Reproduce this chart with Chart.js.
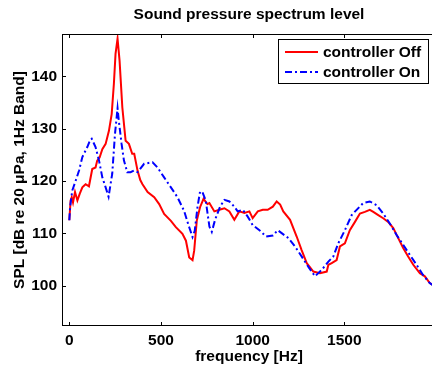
<!DOCTYPE html>
<html>
<head>
<meta charset="utf-8">
<script src="https://cdn.jsdelivr.net/npm/chart.js@4.4.0/dist/chart.umd.min.js"></script>
<style>
  html, body { margin: 0; padding: 0; background: #fff; overflow: hidden; }
  #wrap { width: 440px; height: 367px; }
</style>
</head>
<body>
<div id="wrap"><canvas id="splChart"></canvas></div>
<script>
// values
const offFreq = [0, 7, 13, 20, 31, 44, 57, 71, 80, 89, 107, 125, 143, 152, 165, 180, 198, 216, 231, 243, 252, 263, 274, 289, 307, 325, 343, 354, 372, 387, 399, 427, 463, 490, 517, 554, 581, 617, 636, 654, 672, 681, 695, 713, 732, 753, 764, 791, 818, 846, 873, 900, 927, 955, 982, 1000, 1028, 1055, 1082, 1110, 1131, 1150, 1167, 1204, 1240, 1267, 1295, 1331, 1367, 1404, 1413, 1431, 1458, 1476, 1503, 1530, 1558, 1585, 1612, 1639, 1658, 1685, 1712, 1739, 1767, 1794, 1821, 1848, 1876, 1912, 1939, 1966, 1990];
const offSpl = [112.5, 116.3, 116.9, 115.9, 117.9, 116.3, 117.6, 118.8, 119.1, 119.4, 119.0, 122.3, 122.6, 123.9, 124.5, 126.1, 127.1, 129.6, 132.8, 138.6, 144.3, 147.2, 143.0, 134.1, 127.7, 127.1, 125.2, 125.2, 122.0, 120.2, 119.4, 117.9, 116.9, 115.6, 113.7, 112.4, 111.2, 109.9, 108.6, 105.4, 104.9, 106.7, 112.4, 115.0, 116.6, 115.6, 115.8, 114.2, 114.5, 114.8, 114.2, 112.6, 114.2, 113.9, 114.2, 112.9, 114.2, 114.5, 114.5, 115.1, 116.1, 115.5, 114.2, 112.6, 109.4, 106.8, 104.3, 102.7, 102.4, 102.7, 104.0, 104.3, 104.9, 107.5, 108.1, 110.6, 112.2, 113.8, 114.1, 114.5, 114.1, 113.5, 112.9, 112.2, 111.0, 109.1, 107.2, 105.6, 104.0, 102.4, 101.8, 100.5, 100.0];

const onFreq = [0, 4, 16, 35, 53, 71, 98, 114, 122, 143, 162, 180, 198, 214, 234, 249, 263, 270, 285, 298, 316, 334, 352, 372, 408, 454, 481, 517, 554, 590, 626, 648, 672, 684, 699, 713, 726, 744, 764, 777, 795, 822, 846, 873, 900, 918, 946, 973, 1000, 1037, 1073, 1110, 1137, 1160, 1195, 1231, 1267, 1304, 1340, 1376, 1413, 1440, 1467, 1503, 1540, 1567, 1603, 1639, 1676, 1712, 1748, 1785, 1821, 1857, 1894, 1930, 1966, 1990];
const onSpl = [112.5, 115.0, 118.2, 120.1, 122.0, 124.6, 126.5, 127.9, 128.1, 126.5, 123.9, 120.7, 118.8, 117.0, 121.4, 129.0, 133.9, 131.5, 127.1, 123.9, 121.7, 121.7, 122.0, 121.7, 123.3, 123.6, 122.6, 120.7, 118.8, 116.9, 114.3, 111.8, 109.3, 110.5, 115.0, 118.0, 117.9, 116.3, 111.3, 110.3, 112.6, 115.1, 116.4, 116.1, 115.1, 114.2, 114.5, 113.2, 111.6, 110.6, 109.4, 109.6, 110.6, 110.0, 109.1, 107.5, 105.6, 103.6, 101.8, 103.0, 104.6, 105.6, 108.1, 110.6, 113.5, 114.5, 115.8, 116.1, 115.4, 113.8, 111.9, 109.7, 107.8, 105.9, 104.0, 102.0, 100.5, 99.9];

const seriesNames = ['controller Off', 'controller On'];
const xTicks = [0, 500, 1000, 1500];
const yTicks = [100, 110, 120, 130, 140];
const chartTitle = 'Sound pressure spectrum level';

const FONT = '"Liberation Sans", Arial, Helvetica, sans-serif';
const FS = 15.5;

function toPoints(xs, ys) {
    return xs.map((x, i) => ({ x: x, y: ys[i] }));
}

// MATLAB style box, inward ticks, title and legend
const matlabFrame = {
    id: 'matlabFrame',
    afterDraw(chart) {
        const { ctx, chartArea: a, scales: { x, y } } = chart;
        ctx.save();
        ctx.strokeStyle = '#000';
        ctx.lineWidth = 1;
        ctx.setLineDash([]);
        ctx.strokeRect(a.left + 0.5, a.top + 0.5, a.right - a.left - 1, a.bottom - a.top - 1);

        ctx.beginPath();
        xTicks.forEach(v => {
            const px = Math.round(x.getPixelForValue(v)) + 0.5;
            ctx.moveTo(px, a.bottom); ctx.lineTo(px, a.bottom - 4);
            ctx.moveTo(px, a.top); ctx.lineTo(px, a.top + 4);
        });
        yTicks.forEach(v => {
            const py = Math.round(y.getPixelForValue(v)) + 0.5;
            ctx.moveTo(a.left, py); ctx.lineTo(a.left + 4, py);
            ctx.moveTo(a.right, py); ctx.lineTo(a.right - 4, py);
        });
        ctx.stroke();

        ctx.fillStyle = '#000';
        ctx.font = 'bold ' + FS + 'px ' + FONT;
        ctx.textAlign = 'center';
        ctx.textBaseline = 'middle';
        ctx.fillText(chartTitle, (a.left + a.right) / 2, 15);

        // legend box
        const lx = a.right - 158, ly = a.top + 5, lw = 150, lh = 44;
        ctx.fillStyle = '#fff';
        ctx.fillRect(lx, ly, lw, lh);
        ctx.strokeRect(lx + 0.5, ly + 0.5, lw, lh);
        ctx.textAlign = 'left';
        chart.data.datasets.forEach((ds, i) => {
            const yy = ly + 13 + i * 20;
            ctx.strokeStyle = ds.borderColor;
            ctx.lineWidth = ds.borderWidth;
            ctx.setLineDash(ds.borderDash || []);
            ctx.beginPath();
            ctx.moveTo(lx + 7, yy);
            ctx.lineTo(lx + 40, yy);
            ctx.stroke();
            ctx.setLineDash([]);
            ctx.fillStyle = '#000';
            ctx.fillText(ds.label, lx + 45, yy + 1);
        });
        ctx.restore();
    }
};

const ctx = document.getElementById('splChart');
new Chart(ctx, {
    type: 'line',
    data: {
        datasets: [{
            label: seriesNames[0],
            data: toPoints(offFreq, offSpl),
            borderColor: 'rgb(255, 0, 0)',
            borderWidth: 2,
            pointRadius: 0,
            tension: 0,
            order: 2
        }, {
            label: seriesNames[1],
            data: toPoints(onFreq, onSpl),
            borderColor: 'rgb(0, 0, 255)',
            borderWidth: 2,
            borderDash: [7, 3, 2, 3],
            pointRadius: 0,
            tension: 0,
            order: 1
        }]
    },
    options: {
        responsive: true,
        maintainAspectRatio: false,
        animation: false,
        layout: { padding: { top: 34, right: 4, left: 0, bottom: 0 } },
        plugins: {
            legend: { display: false },
            title: { display: false },
            tooltip: { enabled: false }
        },
        scales: {
            x: {
                type: 'linear',
                min: -40,
                max: 2000,
                afterBuildTicks: s => { s.ticks = xTicks.map(v => ({ value: v })); },
                afterFit: s => { s.height = 41; },
                grid: { display: false, drawTicks: false },
                border: { display: false },
                ticks: {
                    color: '#000',
                    font: { family: FONT, size: FS, weight: 'bold' },
                    padding: 5,
                    maxRotation: 0,
                    autoSkip: false,
                    callback: v => String(v)
                },
                title: {
                    display: true,
                    text: 'frequency [Hz]',
                    color: '#000',
                    font: { family: FONT, size: FS, weight: 'bold' },
                    padding: { top: 0, bottom: 1 }
                }
            },
            y: {
                type: 'linear',
                min: 92.3,
                max: 148.1,
                afterBuildTicks: s => { s.ticks = yTicks.map(v => ({ value: v })); },
                afterFit: s => { s.width = 62; },
                grid: { display: false, drawTicks: false },
                border: { display: false },
                ticks: {
                    color: '#000',
                    font: { family: FONT, size: FS, weight: 'bold' },
                    padding: 5,
                    callback: v => String(v)
                },
                title: {
                    display: true,
                    text: 'SPL [dB re 20 μPa, 1Hz Band]',
                    color: '#000',
                    font: { family: FONT, size: FS, weight: 'bold' },
                    padding: { top: 10, bottom: 0 }
                }
            }
        }
    },
    plugins: [matlabFrame]
});
</script>
</body>
</html>
